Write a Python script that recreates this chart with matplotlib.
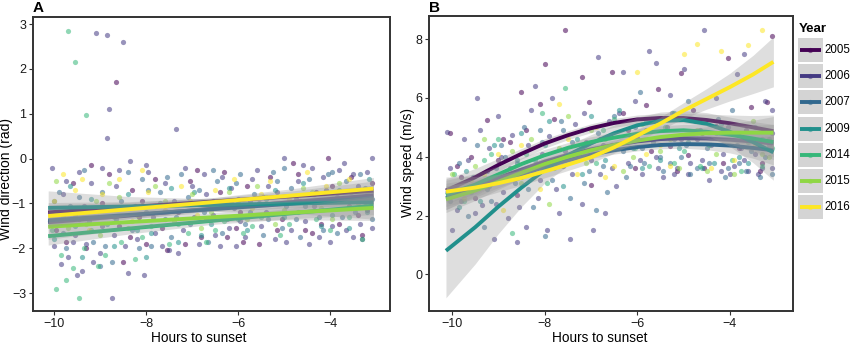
import numpy as np
import matplotlib.pyplot as plt
from matplotlib.patches import Rectangle

plt.rcParams['font.family'] = ['Liberation Sans', 'DejaVu Sans']

W, H = 850, 344

years = ['2005', '2006', '2007', '2009', '2014', '2015', '2016']
colors = ['#440154', '#443A83', '#31688E', '#21908C', '#35B779', '#8FD744', '#FDE725']

# ---- wind direction observations (hours to sunset, rad), one list per year
dir_2005 = [(-9.95, -1.6), (-9.6, -0.55), (-9.3, -2.0), (-9.05, -1.3), (-8.8, -0.35), (-8.65, 1.72),
            (-8.5, -2.3), (-8.3, -0.7), (-8.0, -1.9), (-7.8, -0.45), (-7.55, -2.05), (-7.3, -1.2),
            (-7.05, -0.5), (-6.8, -1.75), (-6.55, -0.95), (-6.3, -0.3), (-6.05, -1.55), (-5.8, -0.6),
            (-5.55, -1.9), (-5.3, -0.4), (-5.05, -1.35), (-4.8, -0.1), (-4.55, -1.6), (-4.3, -0.75),
            (-4.05, 0.02), (-3.8, -1.45), (-3.55, -0.4), (-3.3, -1.7), (-3.1, -0.55), (-9.2, -0.15),
            (-8.15, -1.3), (-6.9, -0.25), (-5.9, -1.85), (-4.7, -0.35), (-3.4, -1.25),
            (-9.75, -1.85), (-9.45, -1.35), (-8.95, -1.0), (-8.6, -1.5), (-8.1, -0.95), (-7.65, -1.55),
            (-7.15, -1.9), (-6.7, -1.35), (-6.4, -0.75), (-5.95, -1.2), (-5.45, -0.85), (-5.15, -1.6),
            (-4.65, -0.95), (-4.2, -1.45), (-3.95, -0.6), (-3.6, -1.05), (-3.2, -1.15), (-8.35, -1.75),
            (-6.25, -1.75), (-4.4, -1.65)]
dir_2006 = [(-10.05, -0.2), (-10.0, -1.95), (-9.85, -2.35), (-9.8, -0.8), (-9.7, -2.2), (-9.6, -1.85),
            (-9.5, -2.6), (-9.45, -0.3), (-9.4, -2.5), (-9.3, -1.9), (-9.2, -0.55), (-9.1, 2.8),
            (-9.0, -2.1), (-8.95, -0.2), (-8.85, 2.75), (-8.85, 0.45), (-8.8, 1.1), (-8.75, -3.1),
            (-8.7, -1.7), (-8.6, -0.25), (-8.5, 2.6), (-8.4, -2.55), (-8.35, -0.05), (-8.2, -1.8),
            (-8.05, -2.6), (-7.95, -0.3), (-7.8, -1.65), (-7.6, -0.55), (-7.5, -2.05), (-7.35, 0.65),
            (-7.2, -1.6), (-7.0, -0.6), (-6.85, -1.9), (-6.7, -0.8), (-6.5, -1.7), (-6.35, -0.4),
            (-6.2, -1.55), (-6.0, -0.9), (-5.85, -1.75), (-5.7, -0.45), (-5.5, -1.5), (-5.35, -0.6),
            (-5.2, -1.8), (-5.0, 0.02), (-4.85, -1.6), (-4.7, -0.5), (-4.55, -1.4), (-4.4, -0.2),
            (-4.25, -1.75), (-4.1, -0.7), (-3.95, -1.5), (-3.8, -0.25), (-3.65, -1.6), (-3.5, -0.35),
            (-3.35, -1.45), (-3.2, -0.3), (-3.1, -1.55), (-3.1, 0.02), (-3.3, -1.8), (-6.1, -1.1),
            (-9.9, -1.2), (-9.75, -0.5), (-9.55, -1.7), (-9.35, -1.05), (-9.15, -2.3), (-8.95, -1.5),
            (-8.65, -0.6), (-8.45, -1.95), (-8.25, -1.05), (-8.0, -0.15), (-7.85, -1.3), (-7.65, -1.95),
            (-7.4, -0.95), (-7.15, -0.2), (-6.95, -1.3), (-6.75, -0.35), (-6.55, -1.25), (-6.4, -1.95),
            (-6.15, -0.65), (-5.95, -1.4), (-5.75, -0.95), (-5.6, -0.25), (-5.4, -1.2), (-5.15, -0.75),
            (-4.95, -1.85), (-4.75, -0.9), (-4.6, -0.15), (-4.35, -1.05), (-4.15, -0.4), (-4.0, -1.85),
            (-3.85, -0.85), (-3.7, -0.1), (-3.55, -1.1), (-3.4, -0.6), (-3.25, -1.05), (-3.15, -0.85),
            (-7.3, -2.1), (-6.05, -1.95), (-4.45, -1.9), (-3.5, -1.75)]
dir_2007 = [(-10.1, -1.4), (-9.9, -0.75), (-9.75, -2.0), (-9.55, -1.25), (-9.35, -0.25), (-9.15, -1.85),
            (-8.95, -0.75), (-8.75, -2.3), (-8.55, -0.95), (-8.3, -1.6), (-8.1, -0.45), (-7.9, -1.95),
            (-7.7, -0.75), (-7.45, -1.75), (-7.25, -0.35), (-7.05, -1.45), (-6.85, -0.7), (-6.65, -1.85),
            (-6.45, -0.5), (-6.25, -1.35), (-6.05, -0.55), (-5.85, -1.45), (-5.65, -0.8), (-5.45, -1.7),
            (-5.25, -0.3), (-5.05, -1.55), (-4.85, -0.65), (-4.65, -1.75), (-4.45, -0.45), (-4.25, -1.3),
            (-4.05, -0.35), (-3.85, -1.65), (-3.65, -0.5), (-3.45, -1.2), (-3.25, -0.65), (-3.1, -1.35),
            (-9.65, -1.05), (-8.0, -1.2), (-6.95, -1.0), (-5.95, -0.35), (-4.95, -1.05), (-3.9, -0.95),
            (-7.6, -1.35), (-5.55, -1.0), (-4.55, -1.05),
            (-10.0, -0.95), (-9.8, -1.65), (-9.45, -0.85), (-9.25, -1.4), (-9.0, -2.4), (-8.65, -1.35),
            (-8.4, -0.3), (-8.15, -2.0), (-7.8, -1.05), (-7.55, -0.4), (-7.35, -1.3), (-7.1, -0.85),
            (-6.75, -1.2), (-6.55, -0.25), (-6.35, -1.65), (-6.15, -0.95), (-5.75, -1.2), (-5.35, -1.35),
            (-5.15, -0.5), (-4.75, -1.35), (-4.35, -0.8), (-4.15, -1.6), (-3.75, -1.3), (-3.55, -0.75),
            (-3.35, -0.35), (-3.1, -0.9), (-8.9, -1.95), (-7.95, -0.7), (-5.0, -0.2), (-3.95, -0.3)]
dir_2009 = [(-10.0, -1.8), (-9.65, -0.6), (-9.4, -2.2), (-9.05, -1.15), (-8.7, -1.95), (-8.4, -0.8),
            (-8.0, -2.2), (-7.7, -1.0), (-7.3, -1.85), (-6.95, -0.75), (-6.6, -1.45), (-6.2, -0.65),
            (-5.8, -1.6), (-5.4, -0.9), (-5.0, -1.3), (-4.6, -0.55), (-4.2, -1.5), (-3.8, -0.7),
            (-3.45, -1.1), (-3.15, -0.45), (-9.8, -1.3), (-7.9, -1.65),
            (-9.55, -1.5), (-9.2, -0.9), (-8.85, -1.45), (-8.2, -1.6), (-7.45, -0.65), (-6.8, -1.7),
            (-6.0, -1.35), (-5.2, -0.7), (-4.4, -0.95), (-3.95, -1.25), (-3.6, -1.55), (-3.2, -1.2)]
dir_2014 = [(-9.7, 2.85), (-9.55, 2.15), (-9.3, 0.97), (-9.95, -2.9), (-9.75, -2.7), (-9.45, -3.1),
            (-9.6, -2.45), (-9.2, -1.6), (-8.9, -2.15), (-8.55, -1.85), (-8.25, -2.25), (-7.9, -1.5),
            (-7.5, -1.9), (-7.1, -1.65), (-6.7, -1.85), (-6.3, -1.4), (-5.9, -1.65), (-5.5, -1.3),
            (-5.1, -1.7), (-4.7, -1.2), (-4.3, -1.35), (-3.3, -1.8),
            (-10.05, -1.6), (-9.85, -2.15), (-9.35, -2.0), (-9.05, -2.4), (-8.7, -1.3), (-8.1, -1.75),
            (-7.3, -1.45), (-6.5, -1.6), (-5.7, -1.5), (-4.9, -1.45), (-4.0, -1.6), (-3.6, -1.3)]
dir_2015 = [(-9.95, -0.5), (-9.6, -1.1), (-9.3, -1.45), (-9.0, -1.7), (-8.6, -0.85), (-8.2, -1.25),
            (-7.8, -0.6), (-7.4, -1.4), (-7.0, -0.8), (-6.6, -1.2), (-6.2, -0.75), (-5.8, -1.35),
            (-5.4, -0.85), (-5.0, -1.15), (-4.6, -0.65), (-4.2, -1.1), (-3.8, -0.55), (-3.4, -1.0),
            (-9.7, -1.55), (-9.1, -0.95), (-8.4, -1.55), (-7.6, -0.95), (-6.8, -1.55), (-6.0, -1.0),
            (-5.2, -1.45), (-4.4, -0.75), (-3.95, -1.35), (-3.2, -0.75), (-8.8, -0.55), (-5.6, -0.6)]
dir_2016 = [(-9.8, -0.35), (-9.55, -0.7), (-9.25, -1.6), (-8.95, -0.8), (-8.6, -0.45), (-8.3, -1.4),
            (-7.95, -0.75), (-7.6, -1.15), (-7.25, -0.6), (-6.9, -1.25), (-6.5, -0.7), (-6.1, -0.45),
            (-5.7, -1.1), (-5.3, -0.5), (-4.9, -0.9), (-4.5, -0.3), (-4.1, -0.6), (-3.6, -0.45),
            (-10.0, -0.95), (-9.4, -0.45), (-8.1, -0.25), (-7.05, -0.95), (-6.3, -1.0), (-5.5, -0.8),
            (-4.3, -0.95), (-3.3, -0.7)]
dir_points = [dir_2005, dir_2006, dir_2007, dir_2009, dir_2014, dir_2015, dir_2016]

# linear fits for wind direction: value at first/last hour, CI half-width along the fit
dir_fit_hours = [-10.13, -8.36, -6.6, -4.83, -3.06]
dir_fit_start = [-1.20, -1.42, -1.38, -1.10, -1.73, -1.52, -1.28]
dir_fit_end = [-0.72, -0.82, -0.88, -0.97, -1.05, -1.10, -0.67]
dir_ci = [[0.22, 0.12, 0.08, 0.12, 0.22],
          [0.12, 0.07, 0.05, 0.07, 0.12],
          [0.15, 0.09, 0.06, 0.09, 0.15],
          [0.38, 0.22, 0.14, 0.22, 0.38],
          [0.20, 0.12, 0.08, 0.12, 0.20],
          [0.28, 0.16, 0.10, 0.16, 0.28],
          [0.25, 0.15, 0.10, 0.15, 0.25]]

# ---- wind speed observations (hours to sunset, m/s)
spd_2005 = [(-10.05, 4.8), (-9.8, 3.3), (-9.5, 2.6), (-9.25, 5.25), (-9.0, 3.9), (-8.75, 4.5), (-8.5, 6.2),
            (-8.25, 3.55), (-8.0, 7.15), (-7.8, 5.3), (-7.55, 8.3), (-7.3, 4.1), (-7.05, 5.85), (-6.8, 4.6),
            (-6.55, 6.9), (-6.3, 5.5), (-6.05, 3.6), (-5.8, 5.75), (-5.55, 6.3), (-5.3, 4.35), (-5.05, 6.85),
            (-4.8, 5.6), (-4.55, 3.6), (-4.3, 5.05), (-4.05, 7.35), (-3.8, 4.3), (-3.55, 5.7), (-3.3, 3.8),
            (-3.1, 8.1), (-9.6, 4.0), (-8.4, 4.9), (-7.0, 3.05), (-6.0, 4.65), (-4.9, 4.05), (-3.2, 5.85),
            (-9.9, 3.7), (-9.3, 3.1), (-8.9, 4.6), (-8.6, 2.7), (-8.1, 5.8), (-7.7, 3.9), (-7.2, 6.7),
            (-6.7, 4.3), (-6.2, 4.9), (-5.7, 4.2), (-5.15, 3.5), (-4.6, 4.8), (-4.15, 3.8), (-3.65, 4.9),
            (-3.35, 3.5)]
spd_2006 = [(-10.1, 4.85), (-10.0, 1.5), (-9.9, 2.2), (-9.75, 4.6), (-9.6, 3.0), (-9.45, 6.0), (-9.35, 2.35),
            (-9.2, 4.3), (-9.1, 1.2), (-9.0, 5.4), (-8.9, 2.8), (-8.8, 1.9), (-8.7, 4.75), (-8.6, 1.1),
            (-8.5, 3.3), (-8.4, 1.6), (-8.3, 5.6), (-8.15, 2.6), (-8.05, 4.1), (-7.95, 1.5), (-7.85, 6.0),
            (-7.7, 2.1), (-7.6, 3.7), (-7.45, 1.2), (-7.35, 5.1), (-7.2, 2.4), (-7.1, 4.5), (-6.95, 1.5),
            (-6.8, 3.4), (-6.7, 2.1), (-6.6, 5.2), (-6.45, 3.0), (-6.3, 6.9), (-6.2, 3.8), (-6.05, 5.9),
            (-5.9, 3.4), (-5.75, 7.6), (-5.6, 4.0), (-5.45, 3.3), (-5.3, 6.1), (-5.15, 3.6), (-5.0, 7.0),
            (-4.85, 3.8), (-4.7, 4.6), (-4.55, 8.3), (-4.45, 3.2), (-4.3, 6.0), (-4.15, 4.1), (-4.0, 3.4),
            (-3.85, 6.8), (-3.7, 3.9), (-3.55, 4.6), (-3.4, 3.4), (-3.25, 5.9), (-3.1, 3.6), (-3.1, 4.8),
            (-6.85, 7.4), (-8.2, 6.4), (-5.6, 7.2), (-3.7, 7.5),
            (-10.05, 3.6), (-9.95, 2.9), (-9.8, 2.5), (-9.65, 3.9), (-9.5, 2.1), (-9.4, 4.9), (-9.25, 3.5),
            (-9.05, 2.4), (-8.95, 4.0), (-8.75, 3.6), (-8.55, 2.3), (-8.35, 4.4), (-8.1, 3.2), (-7.9, 4.7),
            (-7.75, 2.9), (-7.55, 4.2), (-7.4, 3.4), (-7.15, 5.5), (-7.0, 3.9), (-6.75, 4.4), (-6.55, 3.6),
            (-6.4, 5.5), (-6.15, 4.6), (-5.95, 3.9), (-5.8, 4.9), (-5.55, 3.6), (-5.35, 5.0), (-5.2, 3.4),
            (-5.05, 4.6), (-4.9, 3.4), (-4.75, 5.2), (-4.6, 3.9), (-4.4, 4.4), (-4.2, 3.5), (-4.05, 5.0),
            (-3.9, 3.7), (-3.75, 4.3), (-3.6, 3.5), (-3.45, 4.1), (-3.3, 3.6), (-3.15, 4.4), (-3.1, 5.6)]
spd_2007 = [(-10.05, 2.5), (-9.85, 3.8), (-9.65, 2.0), (-9.45, 4.4), (-9.25, 2.9), (-9.05, 3.6), (-8.85, 4.0),
            (-8.65, 3.1), (-8.45, 5.0), (-8.25, 2.3), (-8.05, 4.5), (-7.85, 3.2), (-7.65, 5.2), (-7.45, 2.6),
            (-7.25, 4.2), (-7.05, 3.5), (-6.85, 4.8), (-6.65, 2.8), (-6.45, 4.4), (-6.25, 3.3), (-6.05, 5.0),
            (-5.85, 3.8), (-5.65, 4.5), (-5.45, 3.5), (-5.25, 5.5), (-5.05, 4.0), (-4.85, 3.4), (-4.65, 4.9),
            (-4.45, 3.8), (-4.25, 5.3), (-4.05, 3.6), (-3.85, 4.4), (-3.65, 3.5), (-3.45, 5.0), (-3.25, 4.0),
            (-3.1, 3.4), (-9.3, 1.6), (-8.0, 1.3), (-6.9, 2.2), (-5.95, 6.2), (-4.9, 5.9), (-3.95, 5.6),
            (-7.6, 4.9), (-6.3, 4.2), (-5.2, 4.6),
            (-9.9, 2.9), (-9.55, 3.3), (-9.15, 2.5), (-8.95, 4.4), (-8.6, 3.8), (-8.35, 2.9), (-8.1, 4.9),
            (-7.75, 3.8), (-7.4, 4.5), (-7.15, 3.1), (-6.75, 3.7), (-6.5, 5.4), (-6.15, 3.7), (-5.9, 4.3),
            (-5.5, 4.0), (-5.3, 3.8), (-4.95, 4.4), (-4.7, 3.6), (-4.5, 4.3), (-4.1, 3.3), (-3.8, 3.8),
            (-3.55, 4.2), (-3.35, 3.3), (-3.15, 4.6), (-5.7, 5.3)]
spd_2009 = [(-10.0, 2.7), (-9.7, 3.5), (-9.4, 2.5), (-9.1, 4.4), (-8.8, 3.3), (-8.5, 4.8), (-8.2, 3.9),
            (-7.9, 5.2), (-7.6, 3.0), (-7.3, 4.6), (-7.0, 5.4), (-6.7, 3.9), (-6.4, 5.6), (-6.1, 4.3),
            (-5.8, 5.2), (-5.5, 3.9), (-5.2, 5.5), (-4.9, 4.5), (-4.6, 3.6), (-4.2, 5.1), (-3.8, 4.0),
            (-3.3, 4.6),
            (-9.85, 2.3), (-9.2, 3.0), (-8.6, 3.9), (-8.0, 4.4), (-7.2, 3.4), (-6.55, 4.4), (-5.9, 3.6),
            (-5.1, 4.3), (-4.35, 3.8), (-3.6, 3.8)]
spd_2014 = [(-9.95, 3.4), (-9.6, 2.8), (-9.3, 3.9), (-9.0, 4.6), (-8.7, 1.4), (-8.4, 4.1), (-8.05, 5.5),
            (-7.8, 3.6), (-7.55, 6.35), (-7.2, 4.9), (-6.9, 3.8), (-6.5, 5.3), (-6.15, 4.6), (-5.75, 3.7),
            (-5.4, 5.0), (-5.0, 4.2), (-4.65, 3.7), (-4.3, 4.8), (-3.95, 3.9), (-3.6, 4.5), (-3.3, 3.7),
            (-3.1, 4.3),
            (-9.75, 2.5), (-9.15, 4.1), (-8.55, 3.4), (-7.95, 3.1), (-7.35, 4.1), (-6.75, 4.9), (-6.05, 4.3),
            (-5.2, 3.8), (-4.45, 4.4), (-3.75, 3.5)]
spd_2015 = [(-9.9, 3.0), (-9.5, 3.7), (-9.1, 3.2), (-8.7, 4.2), (-8.3, 4.6), (-7.9, 2.4), (-7.5, 5.4),
            (-7.1, 3.8), (-6.7, 4.6), (-6.3, 3.5), (-5.9, 5.1), (-5.5, 4.2), (-5.1, 3.6), (-4.7, 4.9),
            (-4.3, 4.1), (-3.9, 3.4), (-3.5, 5.2), (-3.15, 4.0),
            (-10.0, 3.4), (-9.3, 4.6), (-8.5, 3.1), (-7.7, 4.3), (-7.0, 4.9), (-6.1, 4.0), (-5.3, 4.6),
            (-4.5, 3.5), (-3.7, 4.6), (-3.3, 4.1)]
spd_2016 = [(-9.75, 2.6), (-9.3, 3.4), (-8.9, 2.2), (-8.5, 4.4), (-8.1, 2.9), (-7.7, 5.8), (-7.3, 3.4),
            (-6.9, 5.0), (-6.5, 3.7), (-6.0, 6.9), (-5.5, 4.4), (-5.0, 7.5), (-4.7, 7.85), (-4.2, 7.6),
            (-3.9, 3.9), (-3.6, 7.8), (-3.3, 8.3), (-5.3, 3.7),
            (-9.6, 3.2), (-9.0, 4.1), (-8.3, 3.6), (-7.5, 4.6), (-6.7, 3.3), (-5.8, 4.1), (-4.4, 3.6),
            (-3.45, 4.4)]
spd_points = [spd_2005, spd_2006, spd_2007, spd_2009, spd_2014, spd_2015, spd_2016]

# loess curves for wind speed, read at these hours
spd_fit_hours = [-10.13, -9.5, -9.0, -8.5, -8.0, -7.5, -7.0, -6.5, -6.0, -5.5, -5.0, -4.5, -4.0, -3.5, -3.06]
spd_fit = [[2.85, 3.30, 3.72, 4.10, 4.45, 4.73, 4.97, 5.15, 5.27, 5.32, 5.32, 5.25, 5.14, 5.00, 4.87],
           [2.75, 3.00, 3.28, 3.56, 3.83, 4.06, 4.25, 4.40, 4.52, 4.60, 4.63, 4.62, 4.58, 4.52, 4.45],
           [2.60, 2.90, 3.15, 3.40, 3.65, 3.88, 4.07, 4.22, 4.33, 4.40, 4.43, 4.42, 4.38, 4.30, 4.22],
           [0.80, 1.60, 2.30, 2.95, 3.55, 4.05, 4.45, 4.80, 5.07, 5.22, 5.25, 5.12, 4.85, 4.50, 4.15],
           [2.70, 3.05, 3.40, 3.75, 4.05, 4.30, 4.50, 4.65, 4.78, 4.87, 4.90, 4.85, 4.75, 4.62, 4.50],
           [2.55, 2.85, 3.15, 3.45, 3.75, 4.00, 4.22, 4.40, 4.55, 4.67, 4.75, 4.80, 4.82, 4.82, 4.82],
           [2.81, 2.95, 3.10, 3.28, 3.50, 3.73, 3.98, 4.32, 4.72, 5.13, 5.57, 5.97, 6.37, 6.80, 7.23]]
spd_ci = [[0.40, 0.30, 0.22, 0.18, 0.16, 0.15, 0.15, 0.15, 0.15, 0.15, 0.16, 0.20, 0.28, 0.40, 0.55],
          [0.35, 0.25, 0.18, 0.14, 0.12, 0.11, 0.11, 0.11, 0.11, 0.12, 0.13, 0.16, 0.22, 0.32, 0.45],
          [0.40, 0.28, 0.20, 0.16, 0.14, 0.13, 0.13, 0.13, 0.13, 0.13, 0.14, 0.18, 0.25, 0.35, 0.50],
          [1.60, 1.25, 0.92, 0.65, 0.45, 0.35, 0.30, 0.28, 0.28, 0.30, 0.32, 0.38, 0.50, 0.70, 0.95],
          [0.50, 0.38, 0.28, 0.22, 0.20, 0.18, 0.18, 0.18, 0.18, 0.18, 0.20, 0.24, 0.32, 0.45, 0.60],
          [0.45, 0.34, 0.26, 0.20, 0.18, 0.17, 0.17, 0.17, 0.17, 0.17, 0.18, 0.22, 0.30, 0.42, 0.55],
          [0.50, 0.38, 0.30, 0.25, 0.22, 0.20, 0.20, 0.20, 0.20, 0.22, 0.27, 0.35, 0.47, 0.65, 0.85]]

PT_ALPHA = 0.55
PT_SIZE = 14
LINE_W = 2.8
BAND_COLOR = '#999999'
BAND_ALPHA = 0.32


def draw_points(ax, groups):
    for pts, col in zip(groups, colors):
        arr = np.array(pts)
        ax.scatter(arr[:, 0], arr[:, 1], s=PT_SIZE, color=col, alpha=PT_ALPHA, linewidths=0, zorder=2)


def draw_smooth(ax, hours, fits, cis):
    hours = np.array(hours)
    z = 3
    for fit, ci, col in zip(fits, cis, colors):
        fit = np.array(fit)
        ci = np.array(ci)
        ax.fill_between(hours, fit - ci, fit + ci, color=BAND_COLOR, alpha=BAND_ALPHA,
                        linewidth=0, zorder=z)
        ax.plot(hours, fit, color=col, lw=LINE_W, solid_capstyle='butt', zorder=z + 1)
        z += 2


def style_axes(ax):
    for sp in ax.spines.values():
        sp.set_linewidth(1.4)
        sp.set_color('#333333')
    ax.tick_params(direction='out', length=3, width=0.8, color='#333333',
                   labelsize=9, labelcolor='#1a1a1a', pad=2)
    ax.set_xticks([-10, -8, -6, -4])


fig = plt.figure(figsize=(W / 100, H / 100), dpi=100)

# panel A: wind direction
ax_a = fig.add_axes([33 / W, 1 - 311 / H, 357 / W, 294 / H])
draw_points(ax_a, dir_points)
dir_lines = [np.interp(dir_fit_hours, [dir_fit_hours[0], dir_fit_hours[-1]], [s, e])
             for s, e in zip(dir_fit_start, dir_fit_end)]
draw_smooth(ax_a, dir_fit_hours, dir_lines, dir_ci)
ax_a.set_xlim(-10.46, -2.7)
ax_a.set_ylim(-3.4, 3.16)
ax_a.set_yticks([-3, -2, -1, 0, 1, 2, 3])
style_axes(ax_a)

# panel B: wind speed
ax_b = fig.add_axes([429.3 / W, 1 - 310.7 / H, 364 / W, 294.7 / H])
draw_points(ax_b, spd_points)
draw_smooth(ax_b, spd_fit_hours, spd_fit, spd_ci)
ax_b.set_xlim(-10.49, -2.63)
ax_b.set_ylim(-1.24, 8.79)
ax_b.set_yticks([0, 2, 4, 6, 8])
style_axes(ax_b)

# axis titles and panel tags
fig.text(6 / W, 1 - 179 / H, 'Wind direction (rad)', rotation=90, ha='center', va='center', fontsize=10)
fig.text(408 / W, 1 - 163 / H, 'Wind speed (m/s)', rotation=90, ha='center', va='center', fontsize=10)
fig.text(199 / W, 1 - 342 / H, 'Hours to sunset', ha='center', va='baseline', fontsize=9.8)
fig.text(600 / W, 1 - 342 / H, 'Hours to sunset', ha='center', va='baseline', fontsize=9.8)
fig.text(33 / W, 1 - 1 / H, 'A', ha='left', va='top', fontsize=11, fontweight='bold')
fig.text(429 / W, 1 - 1 / H, 'B', ha='left', va='top', fontsize=11, fontweight='bold')

# legend drawn in pixel space on an overlay
lax = fig.add_axes([0, 0, 1, 1])
lax.set_xlim(0, W)
lax.set_ylim(H, 0)
lax.axis('off')
lax.text(799, 29, 'Year', ha='left', va='center', fontsize=9.5, fontweight='bold')
for i, (yr, col) in enumerate(zip(years, colors)):
    top = 38 + i * 26.2
    cy = top + 12
    lax.add_patch(Rectangle((798, top), 25, 24, facecolor='#d4d4d4', edgecolor='none'))
    lax.plot([800, 821], [cy, cy], color=col, lw=LINE_W, solid_capstyle='butt')
    lax.scatter([810.5], [cy], s=PT_SIZE, color=col, alpha=PT_ALPHA, linewidths=0)
    lax.text(824.5, cy, yr, ha='left', va='center', fontsize=8.3)

fig.savefig('out.png', dpi=100)
